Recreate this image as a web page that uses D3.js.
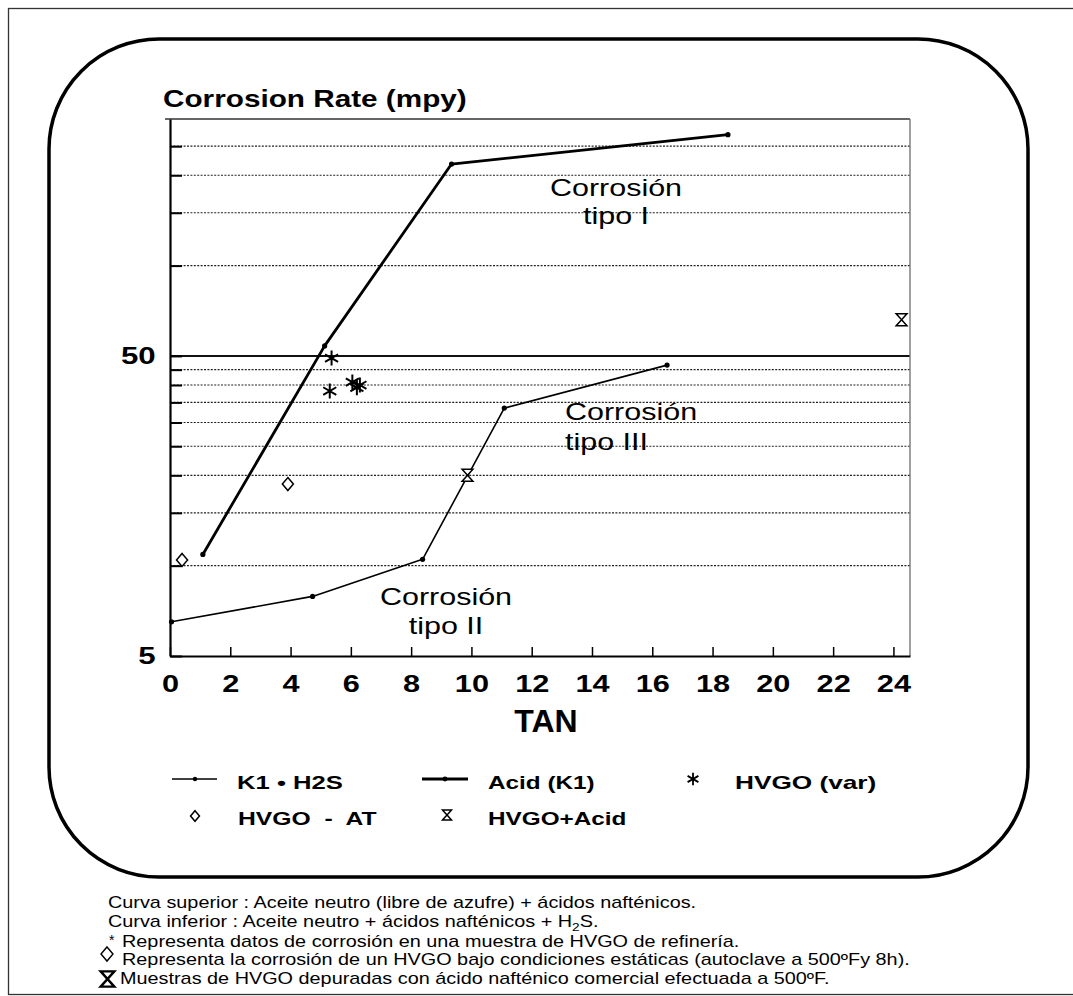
<!DOCTYPE html>
<html>
<head>
<meta charset="utf-8">
<script src="https://cdn.jsdelivr.net/npm/d3@7.9.0/dist/d3.min.js"></script>
<style>
  body { margin: 0; background: #fff; }
  svg { display: block; font-family: "Liberation Sans", Arial, Helvetica, sans-serif; }
</style>
</head>
<body>
<div id="chart"></div>
<script>
// Curve data (TAN vs corrosion rate, mpy)
const acidTAN = [1.09, 5.13, 9.34, 18.51];
const acidRate = [10.9, 54, 218, 273];
const h2sTAN = [0.05, 4.73, 8.38, 11.09, 16.49];
const h2sRate = [6.5, 7.9, 10.5, 33.5, 46.6];

// Scatter data
const hvgoVarTAN = [5.36, 5.30, 6.05, 6.20, 6.30];
const hvgoVarRate = [49.2, 38.2, 40.9, 39.2, 40.0];
const hvgoAtTAN = [0.40, 3.91];
const hvgoAtRate = [10.45, 18.7];
const hvgoAcidTAN = [9.87, 24.27];
const hvgoAcidRate = [20.0, 66];

// Axes
const xTicks = [0, 2, 4, 6, 8, 10, 12, 14, 16, 18, 20, 22, 24];
const yGrid = [10, 15, 20, 25, 30, 35, 40, 45, 100, 150, 200, 250];
const yLabels = [5, 50];

const footnotes = [
  "Curva superior : Aceite neutro (libre de azufre) + ácidos nafténicos.",
  "Curva inferior : Aceite neutro + ácidos nafténicos + H2S.",
  "Representa datos de corrosión en una muestra de HVGO de refinería.",
  "Representa la corrosión de un HVGO bajo condiciones estáticas (autoclave a 500ºFy 8h).",
  "Muestras de HVGO depuradas con ácido nafténico comercial efectuada a 500ºF."
];

const W = 1073, H = 996;
const plotLeft = 170, plotRight = 910, plotTop = 119, plotBottom = 656;

const svg = d3.select("#chart").append("svg")
  .attr("width", W)
  .attr("height", H);

svg.append("rect").attr("width", W).attr("height", H).attr("fill", "#fff");

// outer page border
svg.append("rect")
  .attr("x", 8.5).attr("y", 8.5)
  .attr("width", 1080).attr("height", 986)
  .attr("fill", "none").attr("stroke", "#333").attr("stroke-width", 1.3);

// rounded box
svg.append("rect")
  .attr("x", 49).attr("y", 39)
  .attr("width", 979).attr("height", 838)
  .attr("rx", 110).attr("ry", 110)
  .attr("fill", "none").attr("stroke", "#000").attr("stroke-width", 3.5);

const x = d3.scaleLinear().domain([0, 24.55]).range([plotLeft, plotRight]);
const y = d3.scaleLog().domain([5, 308]).range([plotBottom, plotTop]);

// stretched text helper (the scan is wider than it is tall)
function label(parent, px, py, str, size, opts = {}) {
  return parent.append("text")
    .attr("transform", `translate(${px},${py}) scale(${opts.sx || 1},1)`)
    .attr("font-size", size)
    .attr("font-weight", opts.bold ? "bold" : "normal")
    .attr("text-anchor", opts.anchor || "start")
    .attr("fill", "#000")
    .style("white-space", "pre")
    .text(str);
}

// gridlines
svg.append("g")
  .selectAll("line")
  .data(yGrid)
  .join("line")
  .attr("x1", plotLeft).attr("x2", plotRight)
  .attr("y1", d => y(d)).attr("y2", d => y(d))
  .attr("stroke", "#222")
  .attr("stroke-width", 1.2)
  .attr("stroke-dasharray", "2,1.4");

svg.append("line")
  .attr("x1", plotLeft).attr("x2", plotRight)
  .attr("y1", y(50)).attr("y2", y(50))
  .attr("stroke", "#111").attr("stroke-width", 2);

// frame top and right
svg.append("line")
  .attr("x1", plotLeft - 5).attr("x2", plotRight)
  .attr("y1", plotTop).attr("y2", plotTop)
  .attr("stroke", "#333").attr("stroke-width", 1.6);
svg.append("line")
  .attr("x1", plotRight).attr("x2", plotRight)
  .attr("y1", plotTop).attr("y2", plotBottom)
  .attr("stroke", "#777").attr("stroke-width", 1.4);

// x axis
const xAxis = svg.append("g")
  .attr("transform", `translate(0,${plotBottom})`)
  .call(d3.axisBottom(x)
    .tickValues(xTicks)
    .tickSizeInner(-9)
    .tickSizeOuter(0)
    .tickPadding(19)
    .tickFormat(d3.format("d")));
xAxis.select(".domain").attr("stroke", "#000").attr("stroke-width", 2.2);
xAxis.selectAll(".tick line").attr("stroke", "#000").attr("stroke-width", 1.5);
xAxis.selectAll(".tick text")
  .attr("font-size", 24)
  .attr("font-weight", "bold")
  .attr("font-family", "Liberation Sans, Arial, sans-serif")
  .attr("fill", "#000")
  .attr("transform", "scale(1.28,1)");

// y axis
const yAxis = svg.append("g")
  .attr("transform", `translate(${plotLeft},0)`)
  .call(d3.axisLeft(y)
    .tickValues([5, ...yGrid, 50])
    .tickSizeInner(-12)
    .tickSizeOuter(0)
    .tickPadding(11)
    .tickFormat(d => yLabels.includes(d) ? d : ""));
yAxis.select(".domain").attr("stroke", "#000").attr("stroke-width", 2.2);
yAxis.selectAll(".tick line").attr("stroke", "#000").attr("stroke-width", 2);
yAxis.selectAll(".tick text")
  .attr("font-size", 24)
  .attr("font-weight", "bold")
  .attr("font-family", "Liberation Sans, Arial, sans-serif")
  .attr("fill", "#000")
  .attr("transform", "scale(1.3,1)");

// titles
label(svg, 163, 107, "Corrosion Rate (mpy)", 23.5, { bold: true, sx: 1.265 });
label(svg, 546, 732, "TAN", 32, { bold: true, anchor: "middle" });

// curves
const line = d3.line().x(d => x(d[0])).y(d => y(d[1]));
const acid = d3.zip(acidTAN, acidRate);
const h2s = d3.zip(h2sTAN, h2sRate);

svg.append("path").datum(acid)
  .attr("d", line).attr("fill", "none")
  .attr("stroke", "#000").attr("stroke-width", 2.8).attr("stroke-linejoin", "round");
svg.append("path").datum(h2s)
  .attr("d", line).attr("fill", "none")
  .attr("stroke", "#000").attr("stroke-width", 1.6).attr("stroke-linejoin", "round");

svg.append("g").selectAll("circle")
  .data([...acid, ...h2s])
  .join("circle")
  .attr("cx", d => x(d[0])).attr("cy", d => y(d[1]))
  .attr("r", 2.6).attr("fill", "#000");

// custom symbols
const hourglass = {
  draw(ctx, size) {
    const r = Math.sqrt(size) / 2, w = r * 0.9;
    ctx.moveTo(-w, -r); ctx.lineTo(w, -r); ctx.lineTo(-w, r); ctx.lineTo(w, r); ctx.closePath();
  }
};
const diamond = {
  draw(ctx, size) {
    const r = Math.sqrt(size) / 2, w = r * 0.85;
    ctx.moveTo(0, -r); ctx.lineTo(w, 0); ctx.lineTo(0, r); ctx.lineTo(-w, 0); ctx.closePath();
  }
};

svg.append("g").selectAll("path")
  .data(d3.zip(hvgoVarTAN, hvgoVarRate))
  .join("path")
  .attr("transform", d => `translate(${x(d[0])},${y(d[1])})`)
  .attr("d", d3.symbol(d3.symbolAsterisk, 160))
  .attr("fill", "none").attr("stroke", "#000").attr("stroke-width", 2);

svg.append("g").selectAll("path")
  .data(d3.zip(hvgoAtTAN, hvgoAtRate))
  .join("path")
  .attr("transform", d => `translate(${x(d[0])},${y(d[1])})`)
  .attr("d", d3.symbol(diamond, 169))
  .attr("fill", "#fff").attr("stroke", "#000").attr("stroke-width", 1.5);

svg.append("g").selectAll("path")
  .data(d3.zip(hvgoAcidTAN, hvgoAcidRate))
  .join("path")
  .attr("transform", d => `translate(${x(d[0])},${y(d[1])})`)
  .attr("d", d3.symbol(hourglass, 144))
  .attr("fill", "#fff").attr("stroke", "#000").attr("stroke-width", 1.5);

// region annotations
label(svg, 616, 196, "Corrosión", 24, { sx: 1.27, anchor: "middle" });
label(svg, 616, 224, "tipo I", 24, { sx: 1.27, anchor: "middle" });
label(svg, 565, 420, "Corrosión", 24, { sx: 1.27 });
label(svg, 565, 450, "tipo III", 24, { sx: 1.27 });
label(svg, 446, 605, "Corrosión", 24, { sx: 1.27, anchor: "middle" });
label(svg, 446, 634, "tipo II", 24, { sx: 1.27, anchor: "middle" });

// legend
const lg = svg.append("g");
lg.append("line").attr("x1", 172).attr("x2", 217).attr("y1", 779).attr("y2", 779)
  .attr("stroke", "#000").attr("stroke-width", 1.6);
lg.append("circle").attr("cx", 195).attr("cy", 779).attr("r", 2.2);
lg.append("line").attr("x1", 422).attr("x2", 468).attr("y1", 779).attr("y2", 779)
  .attr("stroke", "#000").attr("stroke-width", 2.8);
lg.append("circle").attr("cx", 445).attr("cy", 779).attr("r", 2.4);
lg.append("path").attr("transform", "translate(693,779)")
  .attr("d", d3.symbol(d3.symbolAsterisk, 110))
  .attr("fill", "none").attr("stroke", "#000").attr("stroke-width", 1.8);
lg.append("path").attr("transform", "translate(195,816)")
  .attr("d", d3.symbol(diamond, 110))
  .attr("fill", "#fff").attr("stroke", "#000").attr("stroke-width", 1.5);
lg.append("path").attr("transform", "translate(447,815)")
  .attr("d", d3.symbol(hourglass, 100))
  .attr("fill", "#fff").attr("stroke", "#000").attr("stroke-width", 1.5);

label(lg, 237, 789, "K1 • H2S", 19, { bold: true, sx: 1.35 });
label(lg, 488, 789, "Acid (K1)", 19, { bold: true, sx: 1.28 });
label(lg, 735, 789, "HVGO (var)", 19, { bold: true, sx: 1.38 });
label(lg, 238, 825, "HVGO  -  AT", 19, { bold: true, sx: 1.3 });
label(lg, 488, 825, "HVGO+Acid", 19, { bold: true, sx: 1.28 });

// footnotes
const footX = [108, 108, 122, 122, 120];
const footY = [908, 927, 947, 965, 984];
footnotes.forEach((str, i) => {
  const t = label(svg, footX[i], footY[i], "", 16, { sx: 1.24 });
  if (str.includes("H2S")) {
    const [a, b] = str.split("H2S");
    t.append("tspan").text(a + "H");
    t.append("tspan").attr("font-size", 11).attr("dy", 4).text("2");
    t.append("tspan").attr("dy", -4).text("S" + b);
  } else {
    t.text(str);
  }
});
svg.append("text").attr("x", 109).attr("y", 945).attr("font-size", 14).text("*");
svg.append("path").attr("transform", "translate(107,954)")
  .attr("d", d3.symbol(diamond, 200))
  .attr("fill", "none").attr("stroke", "#000").attr("stroke-width", 1.4);
svg.append("path").attr("transform", "translate(107.5,979)")
  .attr("d", d3.symbol(hourglass, 230))
  .attr("fill", "none").attr("stroke", "#000").attr("stroke-width", 2.4);
</script>
</body>
</html>
